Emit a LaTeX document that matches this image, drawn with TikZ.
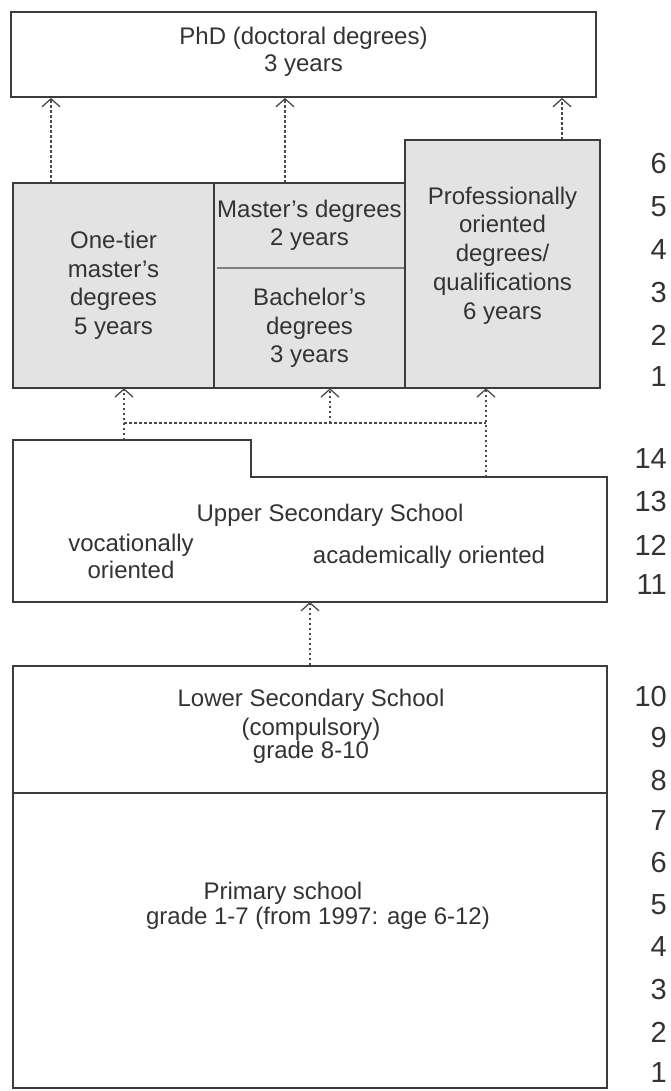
\documentclass[tikz,border=0pt]{standalone}
\usepackage{fontspec}
\setmainfont{Liberation Sans}
\usetikzlibrary{arrows.meta}
\definecolor{lc}{HTML}{3C3C3C}
\definecolor{tc}{HTML}{333333}
\definecolor{fc}{HTML}{E3E3E3}
\definecolor{dc}{HTML}{808080}
\definecolor{ac}{HTML}{4A4A4A}
\begin{document}
\begin{tikzpicture}[x=1pt,y=-1pt,
  box/.style={draw=lc, line width=1.8pt, rectangle, inner sep=0pt},
  fbox/.style={fill=fc, rectangle, inner sep=0pt, text=tc, align=center,
               font=\fontsize{24}{28.5}\selectfont},
  txt/.style={inner sep=0pt, text=tc, align=center, font=\fontsize{24}{28}\selectfont},
  num/.style={anchor=east, inner sep=0pt, text=tc, font=\fontsize{29}{29}\selectfont},
  darr/.style={draw=ac, line width=1.5pt, dash pattern=on 2.5pt off 2.5pt,
               -{Straight Barb[length=8pt,width=18pt,line width=1.3pt]}},
  dline/.style={draw=ac, line width=1.5pt, dash pattern=on 2.5pt off 2.5pt}]
\useasboundingbox (0,0) rectangle (671,1091);

% PhD
\node[box, minimum width=585pt, minimum height=85pt] (phd) at (303.5,54.5) {};
\node[txt, font=\fontsize{24}{27}\selectfont] (phdtxt) at (303.5,51.5) {PhD (doctoral degrees)\\3 years};

% degree boxes
\node[fbox, minimum width=201pt, minimum height=205pt] (onetier) at (113.5,285.5) {One-tier\\master's\\degrees\\5 years};
\node[fbox, minimum width=191pt, minimum height=85pt] (master) at (309.5,225.5) {Master's degrees\\2 years};
\node[fbox, minimum width=191pt, minimum height=120pt] (bachelor) at (309.5,328) {Bachelor's\\degrees\\3 years};
\node[fbox, minimum width=195pt, minimum height=248pt] (prof) at (502.5,264) {};
\node[txt, font=\fontsize{24}{28.75}\selectfont] (proftxt) at (502.5,255.5) {Professionally\\oriented\\degrees/\\qualifications\\6 years};
\draw[lc, line width=1.8pt] (onetier.north west) rectangle (onetier.south east);
\draw[dc, line width=2.5pt] ([xshift=3pt]master.south west) -- (master.south east);
\draw[lc, line width=1.8pt] (master.north west) rectangle (bachelor.south east);
\draw[lc, line width=1.8pt] (prof.north west) rectangle (prof.south east);

% arrows to PhD
\coordinate (s1) at (51,183);
\coordinate (s2) at (285,183);
\coordinate (s3) at (562,140);
\draw[darr] (s1) -- (s1 |- phd.south);
\draw[darr] (s2) -- (s2 |- phd.south);
\draw[darr] (s3) -- (s3 |- phd.south);

% upper secondary school
\coordinate (uA) at (13,440);
\coordinate (uB) at (251,440);
\coordinate (uC) at (251,477);
\coordinate (uD) at (607,477);
\coordinate (uE) at (607,602);
\coordinate (uF) at (13,602);
\draw[lc, line width=1.8pt, line join=miter] (uA) -- (uB) -- (uC) -- (uD) -- (uE) -- (uF) -- cycle;
\node[txt] (usst) at (330,515) {Upper Secondary School};
\node[txt, font=\fontsize{24}{27}\selectfont] (voc) at (131,556.5) {vocationally\\oriented};
\node[txt] (acad) at (429,557) {academically oriented};

% arrows into degrees
\coordinate (j1) at (124,423);
\coordinate (j2) at (330,423);
\coordinate (j3) at (486,423);
\coordinate (u1) at (124,440);
\coordinate (u3) at (486,477);
\draw[dline] (j1) -- (j3);
\draw[darr] (u1) -- (u1 |- onetier.south);
\draw[darr] (j2) -- (j2 |- bachelor.south);
\draw[darr] (u3) -- (u3 |- prof.south);

% lower secondary and primary
\node[box, minimum width=594pt, minimum height=127pt] (lower) at (310,729.5) {};
\node[box, minimum width=594pt, minimum height=295pt] (primary) at (310,940.5) {};
\node[txt] (lowt1) at (311,700) {Lower Secondary School};
\node[txt] (lowt2) at (311,729) {(compulsory)};
\node[txt] (lowt3) at (311,752) {grade 8-10};
\node[txt] (primt1) at (283,893) {Primary school};
\node[txt] (primt2) at (318,918) {grade 1-7 (from 1997: age 6-12)};
\coordinate (ub) at (310,602);
\draw[darr] (lower.north) -- (ub);

% age / grade numbers
\foreach \n/\y in {6/164,5/207,4/250,3/293,2/335,1/377}
  \node[num] (na\n) at (667,\y) {\n};
\foreach \n/\y in {14/459,13/502,12/545,11/585}
  \node[num] (nb\n) at (667,\y) {\n};
\foreach \n/\y in {10/697,9/738,8/781,7/821,6/863,5/905,4/947,3/990,2/1032,1/1073}
  \node[num] (nc\n) at (667,\y) {\n};
\end{tikzpicture}
\end{document}
